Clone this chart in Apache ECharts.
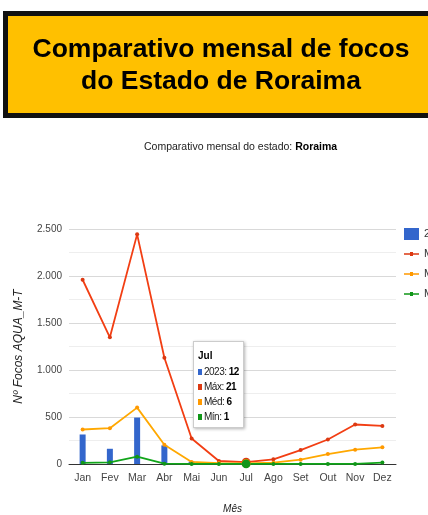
<!DOCTYPE html>
<html><head><meta charset="utf-8">
<script src="https://cdn.jsdelivr.net/npm/echarts@6/dist/echarts.min.js"></script>
<style>html,body{margin:0;padding:0;overflow:hidden;background:#fff}#c{width:428px;height:515px}</style>
</head><body><div id="c"></div>
<script>
const months = ['Jan','Fev','Mar','Abr','Mai','Jun','Jul','Ago','Set','Out','Nov','Dez'];
const y2023 = [314,162,494,198,25,5,12,null,null,null,null,null];
const maxVals = [1960,1348,2443,1130,272,32,21,50,148,261,420,405];
const medVals = [367,381,600,205,22,10,6,14,46,106,152,177];
const minVals = [12,18,78,3,1,1,1,1,1,1,1,15];
const yTicks = [0,500,1000,1500,2000,2500];
const seriesNames = ['2023','Máx','Méd','Mín'];
const colors = ['#3366cc','#dc3912','#ff9900','#109618'];
const tipIndex = 6;

const fontN = 'Arial,"Liberation Sans",sans-serif';
const chart = echarts.init(document.getElementById('c'));
const fmt = v => v.toLocaleString('de-DE');
const lineIcon = 'path://M0,0L0.05,0L0.05,0.05Z M0,5.2L15,5.2L15,6.8L0,6.8Z M6,4L9,4L9,8L6,8Z M14.95,12L15,12L15,11.95Z';
const lineS = (name, data, color) => ({
  name, type:'line', data, symbol:'circle', symbolSize:4, showSymbol:true,
  lineStyle:{width:1.8,color}, itemStyle:{color}, emphasis:{scale:2.2, itemStyle:{color}}
});
chart.setOption({
  animation:false,
  textStyle:{fontFamily:fontN},
  graphic:[
    {type:'rect', shape:{x:5.5,y:13.5,width:440,height:102}, style:{fill:'#FFC000',stroke:'#111',lineWidth:5}, z:0},
    {type:'text', x:221, y:50, style:{text:'Comparativo mensal de focos', font:'bold 26.5px "Liberation Sans",Arial,sans-serif', fill:'#000', textAlign:'center', textVerticalAlign:'middle'}},
    {type:'text', x:221, y:82, style:{text:'do Estado de Roraima', font:'bold 26.5px "Liberation Sans",Arial,sans-serif', fill:'#000', textAlign:'center', textVerticalAlign:'middle'}}
  ],
  title:{
    text:'Comparativo mensal do estado: {b|Roraima}',
    left:144, top:142, padding:0,
    textStyle:{fontSize:10.5, fontWeight:'normal', color:'#222', fontFamily:fontN,
      rich:{b:{fontWeight:'bold', fontSize:10.5, color:'#000', fontFamily:fontN}}}
  },
  legend:{
    orient:'vertical', left:404, top:228, padding:0, itemGap:8, itemWidth:15, itemHeight:12,
    data:[
      {name:seriesNames[0], icon:'rect'},
      {name:seriesNames[1], icon:lineIcon},
      {name:seriesNames[2], icon:lineIcon},
      {name:seriesNames[3], icon:lineIcon}
    ],
    textStyle:{color:'#333', fontSize:11, fontFamily:fontN}
  },
  grid:{left:69, right:32, top:229, bottom:47},
  tooltip:{
    trigger:'axis', alwaysShowContent:true, triggerOn:'none',
    axisPointer:{type:'none'},
    position:()=>[193,341],
    backgroundColor:'#fff', borderColor:'#ccc', borderWidth:1, padding:[7,4,3,4],
    extraCssText:'box-shadow:1px 1px 3px rgba(0,0,0,0.3);border-radius:0;',
    formatter:(ps)=>{
      const f = "Arial,'Liberation Sans',sans-serif";
      let h = '<div style="font:bold 10px '+f+';color:#000;line-height:14px;margin-bottom:1px">'+ps[0].axisValue+'</div>';
      ps.forEach((p)=>{
        h += '<div style="font:10px '+f+';letter-spacing:-0.5px;color:#222;line-height:15px"><span style="display:inline-block;width:4px;height:6px;background:'+colors[p.seriesIndex]+';margin-right:2px"></span>'+p.seriesName+': <b style="color:#000">'+p.value+'</b></div>';
      });
      return h;
    }
  },
  xAxis:{
    type:'category', data:months, boundaryGap:true,
    name:'Mês', nameLocation:'middle', nameGap:40,
    nameTextStyle:{fontStyle:'italic', color:'#222', fontSize:10},
    axisLine:{lineStyle:{color:'#333',width:1}}, axisTick:{show:false},
    axisLabel:{color:'#444', fontSize:10.5, margin:9, interval:0}
  },
  yAxis:{
    type:'value', min:yTicks[0], max:yTicks[yTicks.length-1], interval:500,
    name:'Nº Focos AQUA_M-T', nameLocation:'middle', nameGap:44,
    nameTextStyle:{fontStyle:'italic', color:'#222', fontSize:12},
    axisLine:{show:false}, axisTick:{show:false},
    axisLabel:{color:'#444', fontSize:10, margin:7, formatter:v=>fmt(v)},
    splitLine:{lineStyle:{color:'#d9d9d9',width:1}},
    minorTick:{show:false, splitNumber:2},
    minorSplitLine:{show:true, lineStyle:{color:'#eeeeee',width:1}}
  },
  series:[
    {name:'2023', type:'bar', data:y2023, barWidth:6, itemStyle:{color:colors[0]}},
    lineS('Máx', maxVals, colors[1]),
    lineS('Méd', medVals, colors[2]),
    lineS('Mín', minVals, colors[3])
  ]
});
chart.dispatchAction({type:'showTip', seriesIndex:1, dataIndex:tipIndex});
</script></body></html>
